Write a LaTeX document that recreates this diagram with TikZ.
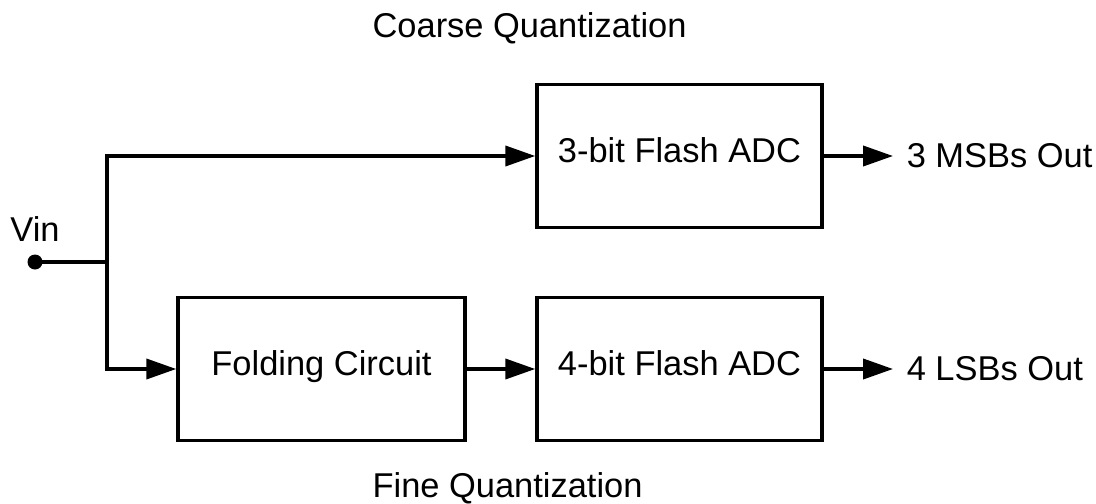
\documentclass[tikz,border=0pt]{standalone}
\usepackage{fontspec}
\setmainfont{Liberation Sans}
\usetikzlibrary{arrows.meta,positioning}
\begin{document}
\begin{tikzpicture}[x=0.02cm, y=-0.02cm, font=\fontsize{19.6}{23}\selectfont, line join=miter, line width=2pt,
	>={Triangle[length=17pt,width=11.4pt]},
	blk/.style={draw, minimum height=2.86cm, inner sep=0pt, text depth=0.25cm}]
	\useasboundingbox (0,0) rectangle (1096,504);
	% Khối
	\node[blk, minimum width=5.7cm] (coarse) at (679.5,156) {3-bit Flash ADC};
	\node[blk, minimum width=5.7cm] (fine) at (679.5,369) {4-bit Flash ADC};
	\node[blk, minimum width=5.74cm] (fold) at (321.5,369) {Folding Circuit};
	% Đầu vào
	\node[circle, fill, inner sep=0pt, minimum size=0.3cm] (vin) at (35,262) {};
	\node[above=2pt of vin] (vinlbl) {Vin};
	\coordinate (split) at (107,262);
	\draw (vin.center) -- (split);
	\draw[->] (split) |- (coarse.west);
	\draw[->] (split) |- (fold.west);
	\draw[->] (fold.east) -- (fine.west);
	% Đầu ra
	\coordinate (msb) at (893,156);
	\coordinate (lsb) at (893,369);
	\draw[->] (coarse.east) -- (msb) node[right=3.5pt] (msblbl) {3 MSBs Out};
	\draw[->] (fine.east) -- (lsb) node[right=3.5pt] (lsblbl) {4 LSBs Out};
	\node[anchor=base west] (ctitle) at (365,37) {Coarse Quantization};
	\node[anchor=base west] (ftitle) at (365,497) {Fine Quantization};
\end{tikzpicture}
\end{document}
